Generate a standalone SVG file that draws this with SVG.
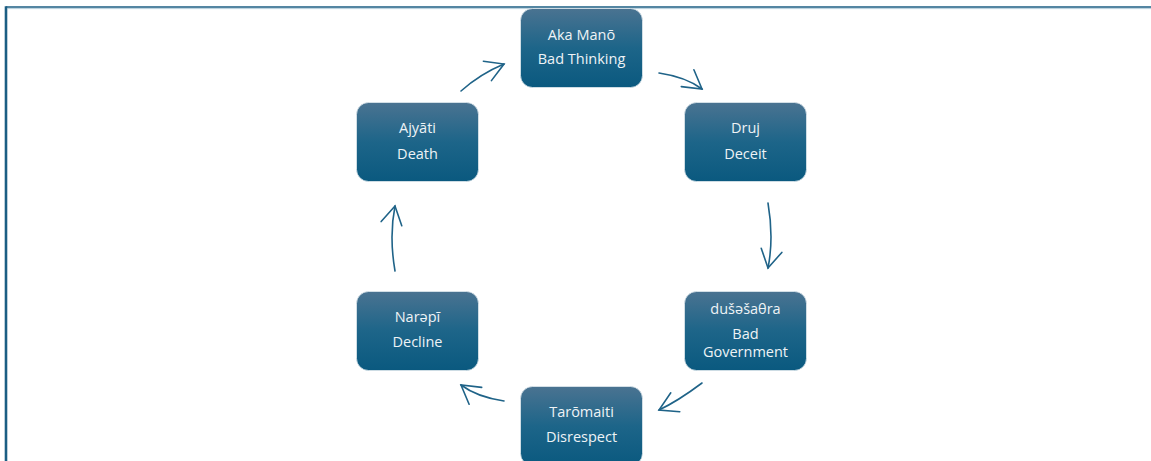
<svg xmlns="http://www.w3.org/2000/svg" width="1151" height="461" viewBox="0 0 1151 461">
  <defs>
    <linearGradient id="boxGrad" x1="0" y1="0" x2="0" y2="1">
      <stop offset="0" stop-color="#4a7391"/>
      <stop offset="0.5" stop-color="#1d6589"/>
      <stop offset="1" stop-color="#0a597f"/>
    </linearGradient>
    <marker id="arrowHead" markerUnits="userSpaceOnUse" markerWidth="40" markerHeight="40" viewBox="-20 -20 40 40" refX="0" refY="0" orient="auto">
      <path d="M-18,-10.5 L0,0 L-18,10.5" fill="none" stroke="#1f6388" stroke-width="1.6" stroke-linecap="round" stroke-linejoin="miter"/>
    </marker>
  </defs>
  <style>
    .box { fill: url(#boxGrad); stroke: #dfe8ee; stroke-width: 0.8; }
    .lbl { font-family: "Open Sans", "Noto Sans", sans-serif; font-size: 14.5px; fill: #eef3f6; text-anchor: middle; }
    .conn { fill: none; stroke: #1f6388; stroke-width: 1.6; stroke-linecap: round; marker-end: url(#arrowHead); }
  </style>
  <rect x="0" y="0" width="1151" height="461" fill="#ffffff"/>
  <g id="frame">
    <line x1="6" y1="7" x2="1151" y2="7" stroke="#1b5e83" stroke-width="1.6"/>
    <line x1="7.5" y1="8.6" x2="1151" y2="8.6" stroke="#b7cfdc" stroke-width="1"/>
    <line x1="6" y1="6.2" x2="6" y2="461" stroke="#1b5e83" stroke-width="2.6"/>
  </g>
  <g id="connectors">
    <path class="conn" d="M461,91 Q480,74 504,64"/>
    <path class="conn" d="M659,73 Q686,77 702,89"/>
    <path class="conn" d="M768,203 Q774,238 768,268"/>
    <path class="conn" d="M702,383 Q678,401 659,410"/>
    <path class="conn" d="M504,401 Q477,397 461,385"/>
    <path class="conn" d="M395,271 Q389,236 395,206"/>
  </g>
  <g id="node-aka-mano">
    <rect class="box" x="520.5" y="8.5" width="122" height="79" rx="12"/>
    <text class="lbl" x="581.5" y="40">Aka Manō</text>
    <text class="lbl" x="581.5" y="64">Bad Thinking</text>
  </g>
  <g id="node-druj">
    <rect class="box" x="684.5" y="102.5" width="122" height="79" rx="12"/>
    <text class="lbl" x="745.5" y="133">Druj</text>
    <text class="lbl" x="745.5" y="159">Deceit</text>
  </g>
  <g id="node-dusesathra">
    <rect class="box" x="684.5" y="291.5" width="122" height="79" rx="12"/>
    <text class="lbl" x="745.5" y="314">dušəšaθra</text>
    <text class="lbl" x="745.5" y="339">Bad</text>
    <text class="lbl" x="745.5" y="357">Government</text>
  </g>
  <g id="node-taromaiti">
    <rect class="box" x="520.5" y="386.5" width="122" height="79" rx="12"/>
    <text class="lbl" x="581.5" y="417">Tarōmaiti</text>
    <text class="lbl" x="581.5" y="442">Disrespect</text>
  </g>
  <g id="node-narepi">
    <rect class="box" x="356.5" y="291.5" width="122" height="79" rx="12"/>
    <text class="lbl" x="417.5" y="322">Narəpī</text>
    <text class="lbl" x="417.5" y="347">Decline</text>
  </g>
  <g id="node-ajyati">
    <rect class="box" x="356.5" y="102.5" width="122" height="79" rx="12"/>
    <text class="lbl" x="417.5" y="133">Ajyāti</text>
    <text class="lbl" x="417.5" y="159">Death</text>
  </g>
</svg>
